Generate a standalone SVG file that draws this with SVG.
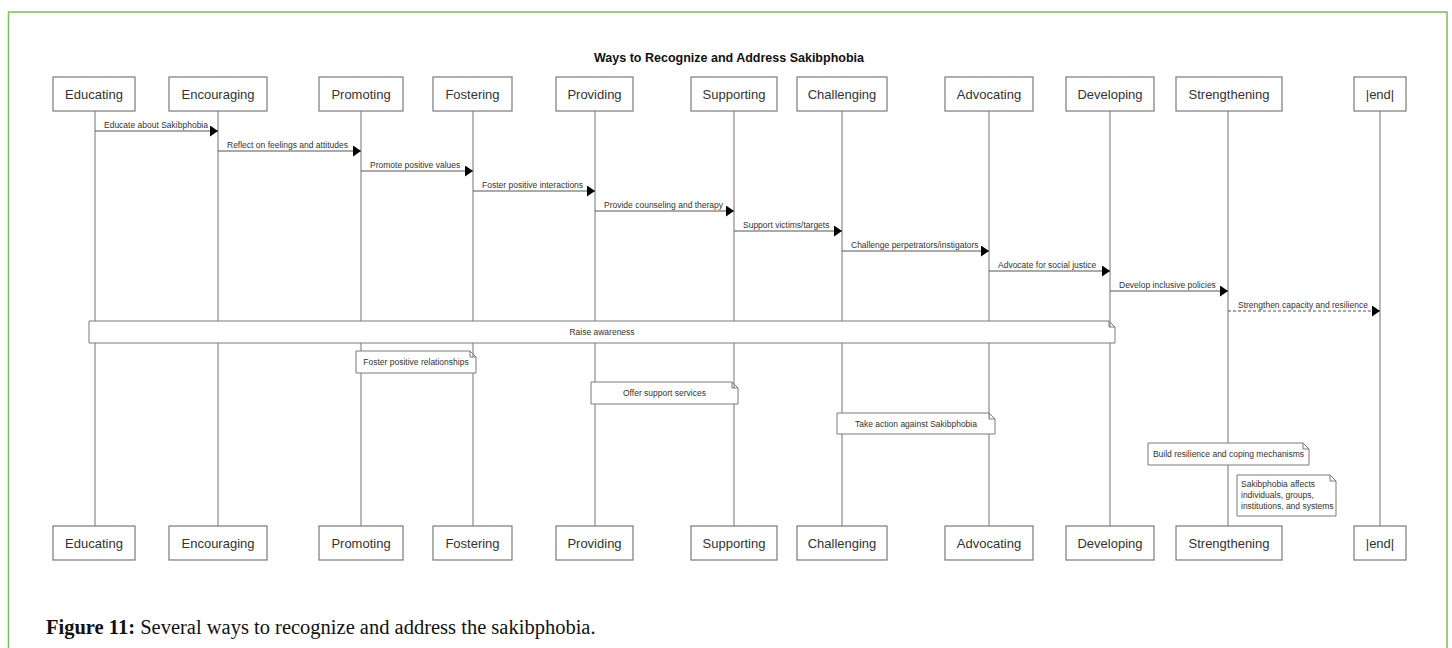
<svg xmlns="http://www.w3.org/2000/svg" width="1452" height="648" viewBox="0 0 1452 648">
<style>
.frame{fill:none;stroke:#7cbf5a;stroke-width:1.5}
.box{fill:#fff;stroke:#7a7a7a;stroke-width:1.2}
.lbl{font-family:"Liberation Sans",Arial,sans-serif;font-size:13px;fill:#333;text-anchor:middle}
.life{stroke:#8a8a8a;stroke-width:1.2}
.msg{stroke:#555;stroke-width:1;fill:none}
.dash{stroke-dasharray:3 2}
.mt{font-family:"Liberation Sans",Arial,sans-serif;font-size:8.5px;fill:#333}
.nt{font-family:"Liberation Sans",Arial,sans-serif;font-size:8.5px;fill:#333;text-anchor:middle}
.note{fill:#fff;stroke:#7a7a7a;stroke-width:1}
.title{font-family:"Liberation Sans",Arial,sans-serif;font-size:12.5px;font-weight:bold;fill:#111;text-anchor:middle}
.cap{font-family:"Liberation Serif","Times New Roman",serif;font-size:20.5px;fill:#111}
</style>
<defs>
<marker id="ah" markerUnits="userSpaceOnUse" markerWidth="9" markerHeight="11" refX="8" refY="5.5" orient="auto">
<path d="M0,0 L8,5.5 L0,11 z" fill="#000"/>
</marker>
</defs>
<rect width="1452" height="648" fill="#fff"/>
<rect class="frame" x="8.5" y="12" width="1438.5" height="700"/>
<text class="title" x="729" y="62">Ways to Recognize and Address Sakibphobia</text>

<g id="lifelines">
<line class="life" x1="95" y1="111" x2="95" y2="526"/>
<line class="life" x1="218" y1="111" x2="218" y2="526"/>
<line class="life" x1="361" y1="111" x2="361" y2="526"/>
<line class="life" x1="473" y1="111" x2="473" y2="526"/>
<line class="life" x1="595" y1="111" x2="595" y2="526"/>
<line class="life" x1="734" y1="111" x2="734" y2="526"/>
<line class="life" x1="842" y1="111" x2="842" y2="526"/>
<line class="life" x1="989" y1="111" x2="989" y2="526"/>
<line class="life" x1="1110" y1="111" x2="1110" y2="526"/>
<line class="life" x1="1228" y1="111" x2="1228" y2="526"/>
<line class="life" x1="1380" y1="111" x2="1380" y2="526"/>
</g>

<g id="p-educating"><rect class="box" x="53" y="77" width="82" height="34"/><text class="lbl" x="94" y="98.5">Educating</text><rect class="box" x="53" y="526" width="82" height="34"/><text class="lbl" x="94" y="547.5">Educating</text></g>
<g id="p-encouraging"><rect class="box" x="169" y="77" width="98" height="34"/><text class="lbl" x="218" y="98.5">Encouraging</text><rect class="box" x="169" y="526" width="98" height="34"/><text class="lbl" x="218" y="547.5">Encouraging</text></g>
<g id="p-promoting"><rect class="box" x="319" y="77" width="84" height="34"/><text class="lbl" x="361" y="98.5">Promoting</text><rect class="box" x="319" y="526" width="84" height="34"/><text class="lbl" x="361" y="547.5">Promoting</text></g>
<g id="p-fostering"><rect class="box" x="433" y="77" width="79" height="34"/><text class="lbl" x="472.5" y="98.5">Fostering</text><rect class="box" x="433" y="526" width="79" height="34"/><text class="lbl" x="472.5" y="547.5">Fostering</text></g>
<g id="p-providing"><rect class="box" x="556" y="77" width="77" height="34"/><text class="lbl" x="594.5" y="98.5">Providing</text><rect class="box" x="556" y="526" width="77" height="34"/><text class="lbl" x="594.5" y="547.5">Providing</text></g>
<g id="p-supporting"><rect class="box" x="691" y="77" width="86" height="34"/><text class="lbl" x="734" y="98.5">Supporting</text><rect class="box" x="691" y="526" width="86" height="34"/><text class="lbl" x="734" y="547.5">Supporting</text></g>
<g id="p-challenging"><rect class="box" x="797" y="77" width="90" height="34"/><text class="lbl" x="842" y="98.5">Challenging</text><rect class="box" x="797" y="526" width="90" height="34"/><text class="lbl" x="842" y="547.5">Challenging</text></g>
<g id="p-advocating"><rect class="box" x="945" y="77" width="88" height="34"/><text class="lbl" x="989" y="98.5">Advocating</text><rect class="box" x="945" y="526" width="88" height="34"/><text class="lbl" x="989" y="547.5">Advocating</text></g>
<g id="p-developing"><rect class="box" x="1066" y="77" width="88" height="34"/><text class="lbl" x="1110" y="98.5">Developing</text><rect class="box" x="1066" y="526" width="88" height="34"/><text class="lbl" x="1110" y="547.5">Developing</text></g>
<g id="p-strengthening"><rect class="box" x="1176" y="77" width="106" height="34"/><text class="lbl" x="1229" y="98.5">Strengthening</text><rect class="box" x="1176" y="526" width="106" height="34"/><text class="lbl" x="1229" y="547.5">Strengthening</text></g>
<g id="p-end"><rect class="box" x="1354" y="77" width="52" height="34"/><text class="lbl" x="1380" y="98.5">|end|</text><rect class="box" x="1354" y="526" width="52" height="34"/><text class="lbl" x="1380" y="547.5">|end|</text></g>

<g id="connectors">
<line class="msg" x1="95" y1="131" x2="218" y2="131" marker-end="url(#ah)"/>
<text class="mt" x="104" y="128">Educate about Sakibphobia</text>
<line class="msg" x1="218" y1="151" x2="361" y2="151" marker-end="url(#ah)"/>
<text class="mt" x="227" y="148">Reflect on feelings and attitudes</text>
<line class="msg" x1="361" y1="171" x2="473" y2="171" marker-end="url(#ah)"/>
<text class="mt" x="370" y="168">Promote positive values</text>
<line class="msg" x1="473" y1="191" x2="595" y2="191" marker-end="url(#ah)"/>
<text class="mt" x="482" y="188">Foster positive interactions</text>
<line class="msg" x1="595" y1="211" x2="734" y2="211" marker-end="url(#ah)"/>
<text class="mt" x="604" y="208">Provide counseling and therapy</text>
<line class="msg" x1="734" y1="231" x2="842" y2="231" marker-end="url(#ah)"/>
<text class="mt" x="743" y="228">Support victims/targets</text>
<line class="msg" x1="842" y1="251" x2="989" y2="251" marker-end="url(#ah)"/>
<text class="mt" x="851" y="248">Challenge perpetrators/instigators</text>
<line class="msg" x1="989" y1="271" x2="1110" y2="271" marker-end="url(#ah)"/>
<text class="mt" x="998" y="268">Advocate for social justice</text>
<line class="msg" x1="1110" y1="291" x2="1228" y2="291" marker-end="url(#ah)"/>
<text class="mt" x="1119" y="288">Develop inclusive policies</text>
<line class="msg dash" x1="1228" y1="311" x2="1380" y2="311" marker-end="url(#ah)"/>
<text class="mt" x="1238" y="308">Strengthen capacity and resilience</text>
</g>

<g id="n-raise"><path class="note" d="M89,321 H1109 L1115,327 V343 H89 Z M1109,321 V327 H1115"/><text class="nt" x="602" y="335">Raise awareness</text></g>
<g id="n-foster"><path class="note" d="M356,351 H470 L476,357 V373 H356 Z M470,351 V357 H476"/><text class="nt" x="416" y="365">Foster positive relationships</text></g>
<g id="n-offer"><path class="note" d="M591,382 H732 L738,388 V404 H591 Z M732,382 V388 H738"/><text class="nt" x="664.5" y="396">Offer support services</text></g>
<g id="n-action"><path class="note" d="M837,413 H989 L995,419 V434 H837 Z M989,413 V419 H995"/><text class="nt" x="916" y="427">Take action against Sakibphobia</text></g>
<g id="n-build"><path class="note" d="M1148,443 H1303 L1309,449 V465 H1148 Z M1303,443 V449 H1309"/><text class="nt" x="1228.5" y="457">Build resilience and coping mechanisms</text></g>
<g id="n-affects"><path class="note" d="M1237,475 H1330 L1336,481 V516 H1237 Z M1330,475 V481 H1336"/>
<text class="mt" x="1241" y="487">Sakibphobia affects</text>
<text class="mt" x="1241" y="498">individuals, groups,</text>
<text class="mt" x="1241" y="509">institutions, and systems</text></g>

<text class="cap" x="46" y="634"><tspan font-weight="bold">Figure 11:</tspan> Several ways to recognize and address the sakibphobia.</text>
</svg>
